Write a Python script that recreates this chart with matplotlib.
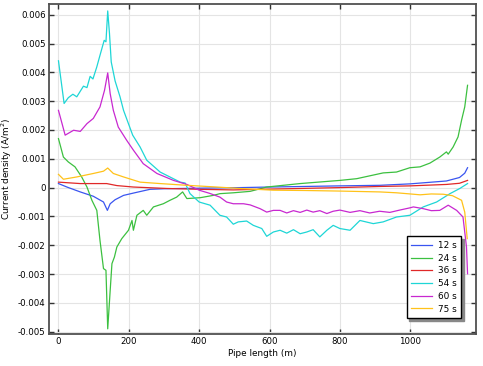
import numpy as np
import matplotlib
matplotlib.use('Agg')
import matplotlib.pyplot as plt
from matplotlib.ticker import FuncFormatter

plt.rcParams['font.family'] = 'DejaVu Sans'
plt.rcParams['axes.unicode_minus'] = False

# current density values, in mA/m^2
x_12 = [0, 24, 62, 99, 128, 139, 147, 161, 185, 213, 260, 300, 400, 516, 600, 800, 914, 1000, 1103, 1140, 1155, 1163]
j_12 = [0.14, 0.02, -0.15, -0.30, -0.50, -0.79, -0.56, -0.42, -0.27, -0.19, -0.06, -0.04, -0.02, 0.0, 0.02, 0.06, 0.08, 0.13, 0.23, 0.35, 0.50, 0.69]

x_24 = [0, 14, 28, 47, 66, 81, 95, 109, 118, 128, 135, 140, 147, 152, 159, 166, 180, 199, 209, 213, 223, 241, 251, 270,
        298, 317, 336, 353, 365, 403, 440, 459, 497, 545, 592, 687, 800, 848, 923, 961, 999, 1028, 1056, 1084, 1103,
        1108, 1122, 1136, 1146, 1155, 1163]
j_24 = [1.70, 1.06, 0.89, 0.72, 0.37, 0.02, -0.44, -0.79, -1.83, -2.81, -2.87, -4.90, -3.57, -2.64, -2.41, -2.06, -1.77,
        -1.48, -1.14, -1.48, -0.96, -0.79, -0.96, -0.67, -0.56, -0.44, -0.33, -0.15, -0.38, -0.35, -0.27, -0.21, -0.18,
        -0.13, 0.02, 0.14, 0.25, 0.31, 0.51, 0.54, 0.69, 0.72, 0.85, 1.06, 1.24, 1.16, 1.41, 1.76, 2.34, 2.80, 3.55]

x_36 = [0, 62, 137, 166, 213, 308, 403, 497, 611, 800, 914, 1000, 1103, 1140, 1163]
j_36 = [0.19, 0.14, 0.14, 0.07, 0.02, -0.03, -0.06, -0.08, -0.05, 0.0, 0.04, 0.06, 0.11, 0.15, 0.25]

x_54 = [0, 16, 28, 41, 52, 71, 81, 90, 98, 109, 118, 130, 135, 140, 145, 150, 161, 175, 185, 211, 232, 251, 289, 346,
        360, 374, 400, 431, 459, 478, 497, 511, 535, 554, 578, 592, 611, 630, 649, 668, 687, 706, 724, 743, 763, 781,
        800, 829, 857, 895, 923, 961, 999, 1037, 1075, 1113, 1141, 1163]
j_54 = [4.40, 2.92, 3.12, 3.24, 3.15, 3.52, 3.47, 3.86, 3.77, 4.19, 4.59, 5.11, 5.06, 6.13, 5.35, 4.36, 3.70, 3.15,
        2.68, 1.82, 1.41, 0.95, 0.54, 0.19, 0.16, -0.21, -0.50, -0.61, -0.96, -1.02, -1.27, -1.19, -1.16, -1.31, -1.42,
        -1.69, -1.54, -1.48, -1.58, -1.46, -1.60, -1.54, -1.46, -1.71, -1.48, -1.31, -1.42, -1.48, -1.14, -1.25, -1.19,
        -1.02, -0.96, -0.67, -0.50, -0.21, -0.03, 0.14]

x_60 = [0, 19, 43, 62, 81, 99, 118, 131, 140, 147, 156, 170, 194, 213, 241, 280, 327, 365, 400, 430, 459, 478, 497,
        526, 545, 573, 592, 611, 630, 649, 668, 687, 706, 724, 743, 763, 781, 800, 829, 857, 885, 913, 942, 970, 1000,
        1009, 1037, 1060, 1084, 1108, 1132, 1150, 1160, 1163]
j_60 = [2.68, 1.82, 1.99, 1.95, 2.22, 2.40, 2.80, 3.38, 3.98, 3.26, 2.68, 2.10, 1.64, 1.30, 0.83, 0.49, 0.25, 0.11,
        -0.09, -0.20, -0.33, -0.50, -0.56, -0.56, -0.60, -0.73, -0.85, -0.79, -0.79, -0.88, -0.80, -0.86, -0.78, -0.85,
        -0.80, -0.90, -0.82, -0.78, -0.86, -0.80, -0.88, -0.82, -0.86, -0.78, -0.70, -0.67, -0.73, -0.80, -0.79, -0.61,
        -0.79, -1.02, -2.06, -2.99]

x_75 = [0, 14, 52, 99, 128, 140, 156, 185, 232, 289, 365, 450, 516, 611, 700, 800, 914, 961, 1000, 1028, 1060, 1094,
        1120, 1146, 1155, 1162]
j_75 = [0.46, 0.29, 0.37, 0.49, 0.57, 0.68, 0.49, 0.37, 0.19, 0.14, 0.08, 0.02, -0.03, -0.09, -0.10, -0.12, -0.15,
        -0.18, -0.22, -0.25, -0.22, -0.23, -0.28, -0.44, -0.85, -1.77]

series = [
    ('12 s', x_12, j_12, '#3a55f0'),
    ('24 s', x_24, j_24, '#3cc040'),
    ('36 s', x_36, j_36, '#e02828'),
    ('54 s', x_54, j_54, '#1ed6d6'),
    ('60 s', x_60, j_60, '#c828d0'),
    ('75 s', x_75, j_75, '#ffc21a'),
]

fig = plt.figure(figsize=(4.83, 3.66), dpi=100)
ax = fig.add_axes([0.1014, 0.0874, 0.8841, 0.9016])

for label, xs, js, color in series:
    ax.plot(xs, np.array(js) * 1e-3, color=color, lw=0.9, label=label, zorder=3)

ax.set_xlim(-27, 1187)
ax.set_ylim(-0.00508, 0.00637)
ax.set_xticks([0, 200, 400, 600, 800, 1000])
ax.set_yticks(np.arange(-5, 7) * 1e-3)
ax.yaxis.set_major_formatter(FuncFormatter(lambda v, p: '0' if abs(v) < 1e-9 else f'{v:.3f}'))
ax.tick_params(direction='in', length=3.5, width=1, labelsize=6.2, top=True, right=True, colors='#333333',
               labelcolor='black', pad=2.5)
ax.grid(True, color='#e4e4e4', lw=0.8)
ax.set_axisbelow(True)
for s in ax.spines.values():
    s.set_color('#505050')
    s.set_linewidth(1.3)

ax.set_xlabel('Pipe length (m)', fontsize=6.4, labelpad=1.5)
ax.set_ylabel('Current density (A/m$^2$)', fontsize=6.4, labelpad=3)

leg = ax.legend(loc='lower right', bbox_to_anchor=(0.975, 0.035), fontsize=6.4, frameon=True, fancybox=False,
                shadow={'color': '#888888', 'alpha': 1}, handlelength=2.4, labelspacing=0.42, borderpad=0.5,
                handletextpad=0.6)
leg.get_frame().set_edgecolor('black')
leg.get_frame().set_linewidth(1.0)

fig.savefig('out.png', dpi=100)
